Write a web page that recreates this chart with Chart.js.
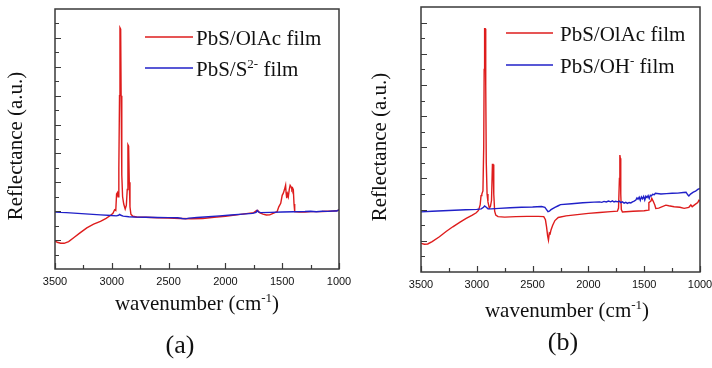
<!DOCTYPE html>
<html>
<head>
<meta charset="utf-8">
<script src="https://cdn.jsdelivr.net/npm/chart.js@4/dist/chart.umd.min.js"></script>
<style>
  html, body { margin: 0; padding: 0; background: #fff; }
  #wrap { position: relative; width: 712px; height: 368px; }
  canvas { position: absolute; top: 0; }
  #chartA { left: 0; }
  #chartB { left: 356px; }
</style>
</head>
<body>
<div id="wrap">
  <canvas id="chartA" width="356" height="368"></canvas>
  <canvas id="chartB" width="356" height="368"></canvas>
</div>
<script>
// FTIR reflectance spectra, arbitrary units, wavenumber in cm-1

// (a) PbS/OlAc film
const olacA_wn = [3500, 3480, 3450, 3420, 3380, 3330, 3280, 3220, 3160, 3100, 3050, 3010, 2990, 2975, 2965,
  2958, 2950, 2945, 2938, 2932, 2928, 2922, 2918, 2912, 2905, 2895, 2882, 2872, 2864, 2858, 2852, 2846,
  2840, 2832, 2815, 2780, 2700, 2600, 2500, 2400, 2300, 2200, 2100, 2000, 1900, 1800, 1750, 1725, 1715,
  1700, 1670, 1640, 1610, 1580, 1560, 1545, 1530, 1513, 1500, 1490, 1480, 1470, 1466, 1460, 1453, 1446,
  1438, 1430, 1422, 1415, 1408, 1402, 1396, 1390, 1350, 1300, 1250, 1200, 1150, 1100, 1050, 1010, 1000];
const olacA_r = [1.95, 1.85, 1.78, 1.78, 1.9, 2.2, 2.5, 2.85, 3.1, 3.3, 3.5, 3.72, 3.85, 4.1, 4.05,
  5.2, 5.3, 5.0, 7.0, 12, 16.7, 16.6, 12, 6.5, 5.0, 4.5, 4.15, 4.4, 5.5, 8.6, 8.5, 6,
  4.3, 3.8, 3.65, 3.6, 3.58, 3.55, 3.52, 3.5, 3.48, 3.5, 3.58, 3.65, 3.75, 3.85, 3.9, 4.05, 4.05,
  3.9, 3.8, 3.74, 3.75, 3.85, 3.92, 3.97, 4.3, 4.55, 5.1, 5.25, 5.5, 5.8, 5.3, 4.9, 5.2, 5.0,
  5.5, 5.8, 5.7, 5.5, 5.6, 5.5, 4.5, 3.98, 3.95, 3.95, 3.97, 3.97, 3.98, 4.0, 4.02, 4.05, 4.12];

// (a) PbS/S2- film
const sulfA_wn = [3500, 3450, 3400, 3300, 3200, 3100, 3000, 2960, 2940, 2930, 2920, 2900, 2850, 2800,
  2700, 2600, 2500, 2420, 2380, 2350, 2320, 2250, 2150, 2050, 1950, 1850, 1760, 1730, 1720, 1710, 1690,
  1600, 1500, 1400, 1300, 1250, 1200, 1150, 1100, 1060, 1020, 1005, 1000];
const sulfA_r = [3.95, 3.92, 3.9, 3.85, 3.8, 3.75, 3.7, 3.68, 3.72, 3.78, 3.72, 3.66, 3.62, 3.6,
  3.58, 3.57, 3.56, 3.55, 3.5, 3.47, 3.52, 3.57, 3.62, 3.68, 3.74, 3.8, 3.85, 3.92, 4.05, 3.95, 3.9,
  3.92, 3.95, 3.96, 3.98, 4.0, 3.96, 4.0, 3.99, 4.02, 4.02, 4.08, 4.1];

// (b) PbS/OlAc film
const olacB_wn = [3500, 3470, 3440, 3400, 3335, 3275, 3215, 3150, 3095, 3040, 3005, 2985, 2970, 2962,
  2955, 2945, 2938, 2934, 2930, 2925, 2920, 2915, 2908, 2900, 2888, 2878, 2868, 2860, 2854, 2848, 2840,
  2830, 2810, 2750, 2650, 2550, 2450, 2400, 2385, 2375, 2365, 2358, 2350, 2343, 2335, 2320, 2300, 2270,
  2200, 2100, 2000, 1900, 1800, 1740, 1730, 1722, 1718, 1714, 1710, 1705, 1695, 1600, 1500, 1462, 1458,
  1440, 1432, 1420, 1405, 1396, 1370, 1306, 1280, 1232, 1180, 1142, 1100, 1082, 1070, 1040, 1020, 1010, 1000];
const olacB_r = [1.84, 1.78, 1.8, 1.95, 2.26, 2.6, 2.9, 3.2, 3.44, 3.65, 3.8, 3.95, 4.3, 4.9,
  5.0, 5.2, 8, 13, 15.6, 15.6, 12, 7, 5, 4.5, 4.1, 4.2, 4.6, 6.9, 6.9, 5, 3.9,
  3.65, 3.55, 3.52, 3.55, 3.57, 3.57, 3.55, 3.35, 2.9, 2.3, 2.05, 2.5, 2.45, 2.7, 3.0, 3.3, 3.5,
  3.6, 3.68, 3.76, 3.82, 3.87, 3.9, 4.1, 6.0, 7.5, 7.3, 5, 4.0, 3.85, 3.9, 3.93, 3.97, 4.45,
  4.55, 4.72, 4.55, 4.3, 4.08, 4.1, 4.29, 4.25, 4.19, 4.15, 4.08, 4.15, 4.3, 4.19, 4.35, 4.45, 4.6, 4.55];

// (b) PbS/OH- film
const hydrB_wn = [3500, 3400, 3300, 3200, 3100, 3000, 2960, 2940, 2930, 2915, 2900, 2870, 2800, 2700,
  2600, 2500, 2420, 2390, 2375, 2362, 2350, 2335, 2300, 2270, 2250, 2150, 2050, 1950, 1900, 1880, 1860,
  1840, 1820, 1800, 1785, 1770, 1755, 1740, 1725, 1710, 1695, 1680, 1665, 1650, 1635, 1620, 1605, 1590,
  1575, 1565, 1555, 1545, 1535, 1525, 1515, 1505, 1495, 1485, 1475, 1465, 1455, 1445, 1435, 1425, 1410,
  1400, 1350, 1300, 1250, 1200, 1150, 1125, 1110, 1100, 1085, 1060, 1040, 1020, 1000];
const hydrB_r = [3.86, 3.9, 3.93, 3.96, 3.99, 4.02, 4.05, 4.15, 4.23, 4.15, 4.05, 4.05, 4.08, 4.12,
  4.15, 4.17, 4.2, 4.15, 4.0, 3.87, 3.9, 4.0, 4.15, 4.25, 4.32, 4.38, 4.44, 4.48, 4.5, 4.47, 4.53,
  4.49, 4.55, 4.5, 4.56, 4.49, 4.54, 4.5, 4.55, 4.45, 4.5, 4.42, 4.47, 4.4, 4.46, 4.43, 4.5, 4.55,
  4.62, 4.75, 4.68, 4.8, 4.6, 4.82, 4.7, 4.85, 4.62, 4.86, 4.78, 4.9, 4.72, 4.92, 4.88, 4.98, 4.96,
  5.05, 5.0, 5.03, 5.05, 5.06, 5.1, 5.12, 4.95, 4.88, 5.0, 5.12, 5.18, 5.3, 5.36];

const xTickValues = [1000, 1250, 1500, 1750, 2000, 2250, 2500, 2750, 3000, 3250, 3500];

const RED = 'rgb(222, 28, 28)';
const BLUE = 'rgb(32, 32, 200)';
const SERIF = '"Liberation Serif", "Times New Roman", serif';

function toPoints(wn, r) {
  return wn.map((w, i) => ({ x: w, y: r[i] }));
}

// text with optional superscript runs, e.g. [['PbS/S'], ['2-', true], [' film']]
function drawRich(ctx, parts, x, y, size, align) {
  const supSize = Math.round(size * 0.6);
  const widths = parts.map(([t, sup]) => {
    ctx.font = (sup ? supSize : size) + 'px ' + SERIF;
    return ctx.measureText(t).width;
  });
  const total = widths.reduce((a, b) => a + b, 0);
  let cx = align === 'center' ? x - total / 2 : x;
  ctx.textAlign = 'left';
  ctx.textBaseline = 'alphabetic';
  parts.forEach(([t, sup], i) => {
    ctx.font = (sup ? supSize : size) + 'px ' + SERIF;
    ctx.fillText(t, cx, sup ? y - size * 0.4 : y);
    cx += widths[i];
  });
}

// frame, inward tick marks, legend and captions
const panelDecor = {
  id: 'panelDecor',
  afterDraw(chart, args, opts) {
    const { ctx, chartArea: a, scales: { x, y } } = chart;
    ctx.save();
    ctx.strokeStyle = '#3a3a3a';
    ctx.lineWidth = 1.2;
    ctx.beginPath();
    xTickValues.forEach(v => {
      const px = Math.round(x.getPixelForValue(v)) + 0.5;
      const len = v % 500 === 0 ? 6 : 4;
      ctx.moveTo(px, a.bottom);
      ctx.lineTo(px, a.bottom - len);
    });
    for (let v = y.min + 1; v < y.max; v++) {
      const py = Math.round(y.getPixelForValue(v)) + 0.5;
      const len = v % 2 === 0 ? 6 : 4;
      ctx.moveTo(a.left, py);
      ctx.lineTo(a.left + len, py);
    }
    ctx.stroke();
    ctx.lineWidth = 1.5;
    ctx.strokeRect(a.left, a.top, a.right - a.left, a.bottom - a.top);

    // legend
    const lg = opts.legend;
    chart.data.datasets.forEach((ds, i) => {
      const ly = lg.y + i * lg.gap;
      ctx.strokeStyle = ds.borderColor;
      ctx.lineWidth = 1.3;
      ctx.beginPath();
      ctx.moveTo(lg.x, ly);
      ctx.lineTo(lg.x + lg.len, ly);
      ctx.stroke();
      ctx.fillStyle = '#111';
      drawRich(ctx, lg.labels[i], lg.textX, ly + lg.dy, 21, 'left');
    });

    // axis titles and panel letter
    ctx.fillStyle = '#111';
    drawRich(ctx, [['wavenumber (cm'], ['-1', true], [')']], opts.xTitle.x, opts.xTitle.y, 21, 'center');
    ctx.save();
    ctx.translate(opts.yTitle.x, opts.yTitle.y);
    ctx.rotate(-Math.PI / 2);
    drawRich(ctx, [['Reflectance (a.u.)']], 0, 0, 21, 'center');
    ctx.restore();
    drawRich(ctx, [[opts.panel]], opts.panelPos.x, opts.panelPos.y, 26, 'center');
    ctx.restore();
  }
};

function makeChart(id, series, cfg) {
  return new Chart(document.getElementById(id), {
    type: 'line',
    data: {
      datasets: series.map(s => ({
        data: s.points,
        borderColor: s.color,
        borderWidth: 1.4,
        pointRadius: 0,
        tension: 0,
        fill: false,
        order: s.order,
      })),
    },
    options: {
      responsive: false,
      animation: false,
      devicePixelRatio: 1,
      layout: { padding: { top: cfg.top, right: cfg.right, left: 0, bottom: 0 } },
      plugins: {
        legend: { display: false },
        tooltip: { enabled: false },
        panelDecor: cfg.decor,
      },
      scales: {
        x: {
          type: 'linear',
          reverse: true,
          min: 1000,
          max: 3500,
          afterBuildTicks: scale => { scale.ticks = xTickValues.map(v => ({ value: v })); },
          afterFit: scale => { scale.height = cfg.xHeight; },
          grid: { display: false, drawTicks: false },
          border: { display: false },
          ticks: {
            autoSkip: false,
            maxRotation: 0,
            padding: 6,
            color: '#111',
            font: { family: '"Liberation Sans", Arial, sans-serif', size: 11 },
            callback: v => (v % 500 === 0 ? String(v) : ''),
          },
        },
        y: {
          min: 0,
          max: cfg.yMax,
          afterFit: scale => { scale.width = cfg.yWidth; },
          grid: { display: false, drawTicks: false },
          border: { display: false },
          ticks: { display: false },
        },
      },
    },
    plugins: [panelDecor],
  });
}

makeChart('chartA', [
  { points: toPoints(olacA_wn, olacA_r), color: RED, order: 1 },
  { points: toPoints(sulfA_wn, sulfA_r), color: BLUE, order: 0 },
], {
  top: 9, right: 17, yWidth: 55, xHeight: 99, yMax: 18,
  decor: {
    legend: {
      x: 145, len: 48, textX: 196, y: 37, gap: 31, dy: 8,
      labels: [[['PbS/OlAc film']], [['PbS/S'], ['2-', true], [' film']]],
    },
    xTitle: { x: 197, y: 310 },
    yTitle: { x: 22, y: 146 },
    panel: '(a)',
    panelPos: { x: 180, y: 353 },
  },
});

makeChart('chartB', [
  { points: toPoints(olacB_wn, olacB_r), color: RED, order: 1 },
  { points: toPoints(hydrB_wn, hydrB_r), color: BLUE, order: 0 },
], {
  top: 7, right: 12, yWidth: 65, xHeight: 96, yMax: 17,
  decor: {
    legend: {
      x: 150, len: 47, textX: 204, y: 33, gap: 32, dy: 8,
      labels: [[['PbS/OlAc film']], [['PbS/OH'], ['-', true], [' film']]],
    },
    xTitle: { x: 211, y: 317 },
    yTitle: { x: 30, y: 147 },
    panel: '(b)',
    panelPos: { x: 207, y: 350 },
  },
});
</script>
</body>
</html>
